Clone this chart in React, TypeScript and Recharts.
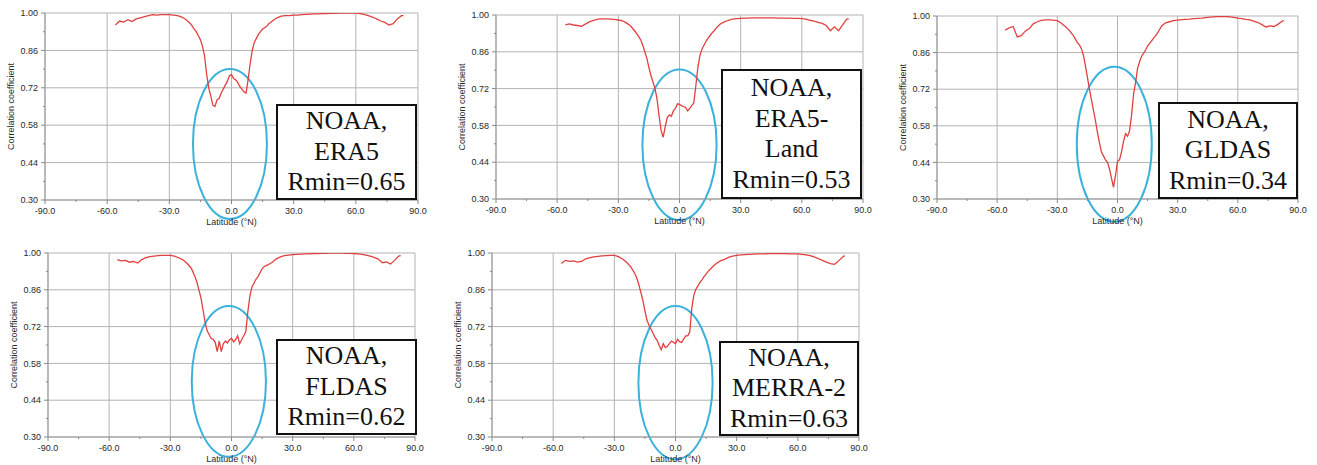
import React from "react";
import { LineChart, Line, XAxis, YAxis, CartesianGrid, ReferenceArea } from "recharts";

// latitude (°N) sample points shared by all panels
const latitudes = [
  -56, -54, -52, -50, -48, -46, -44, -42, -40, -38, -36, -34, -32, -30, -28, -26, -24, -22,
  -20, -19, -18, -17, -16, -15, -14, -13, -12, -11, -10, -9, -8, -7, -6, -5, -4, -3, -2, -1,
  0, 1, 2, 3, 4, 5, 6, 7, 8, 9, 10, 11, 12, 13, 14, 15, 16, 17, 18, 19, 20,
  22, 24, 26, 28, 30, 32, 34, 36, 38, 40, 42, 44, 46, 48, 50, 52, 54, 56, 58, 60,
  62, 64, 66, 68, 70, 72, 74, 76, 78, 80, 82, 83,
];

const era5 = [
  0.955, 0.97, 0.966, 0.975, 0.968, 0.978, 0.982, 0.986, 0.99, 0.994, 0.992, 0.994, 0.994, 0.994, 0.992, 0.99, 0.985, 0.976,
  0.962, 0.952, 0.94, 0.93, 0.915, 0.9, 0.875, 0.84, 0.77, 0.72, 0.69, 0.655, 0.65, 0.675, 0.68, 0.7, 0.715, 0.73, 0.745, 0.765,
  0.77, 0.755, 0.75, 0.74, 0.725, 0.715, 0.705, 0.7, 0.75, 0.81, 0.86, 0.89, 0.905, 0.92, 0.93, 0.94, 0.945, 0.95, 0.96, 0.965, 0.972,
  0.982, 0.988, 0.99, 0.99, 0.992, 0.992, 0.994, 0.995, 0.996, 0.997, 0.997, 0.998, 0.998, 0.999, 0.999, 1.0, 1.0, 1.0, 1.0, 1.0,
  0.998, 0.995, 0.99, 0.985, 0.978, 0.97, 0.965, 0.955, 0.96, 0.978, 0.99, 0.99,
];

const era5Land = [
  0.962, 0.966, 0.962, 0.96, 0.957, 0.966, 0.975, 0.98, 0.984, 0.985, 0.985, 0.984, 0.983, 0.981, 0.978, 0.97, 0.958, 0.94,
  0.918, 0.905, 0.885, 0.86, 0.835, 0.8, 0.77, 0.745, 0.72, 0.68, 0.615, 0.56, 0.535, 0.575, 0.61, 0.62, 0.615, 0.635, 0.645, 0.662,
  0.66, 0.655, 0.652, 0.648, 0.635, 0.645, 0.655, 0.665, 0.73, 0.8, 0.845, 0.87, 0.885, 0.9, 0.912, 0.922, 0.932, 0.94, 0.95, 0.958, 0.966,
  0.974, 0.98, 0.984, 0.986, 0.987, 0.988, 0.988, 0.989, 0.989, 0.989, 0.989, 0.989, 0.989, 0.988, 0.988, 0.988, 0.988, 0.987, 0.987, 0.986,
  0.984, 0.98, 0.977, 0.972, 0.968, 0.96, 0.94, 0.955, 0.94, 0.962, 0.984, 0.985,
];

const gldas = [
  0.946, 0.955, 0.96, 0.92, 0.925, 0.942, 0.952, 0.97, 0.978, 0.983, 0.985, 0.985, 0.984, 0.982, 0.972, 0.96, 0.945, 0.925,
  0.898, 0.89, 0.875, 0.85, 0.81, 0.765, 0.72, 0.68, 0.64, 0.6, 0.555, 0.515, 0.48, 0.465, 0.45, 0.44, 0.415, 0.38, 0.345, 0.39,
  0.445, 0.45, 0.48, 0.52, 0.55, 0.54, 0.56, 0.62, 0.7, 0.745, 0.8, 0.825, 0.845, 0.857, 0.87, 0.885, 0.895, 0.905, 0.915, 0.925, 0.935,
  0.962, 0.974, 0.978, 0.982, 0.984, 0.986, 0.987, 0.988, 0.99, 0.991, 0.992, 0.994, 0.996, 0.997, 0.998, 0.998, 0.998, 0.997, 0.995, 0.992,
  0.99, 0.987, 0.985, 0.98, 0.975, 0.967, 0.958, 0.962, 0.96, 0.968, 0.98, 0.982,
];

const fldas = [
  0.975, 0.97, 0.972, 0.965, 0.968, 0.962, 0.975, 0.982, 0.986, 0.988, 0.99, 0.991, 0.991, 0.991, 0.988, 0.982, 0.975, 0.962,
  0.945, 0.93, 0.912, 0.89, 0.86, 0.83, 0.785, 0.74, 0.705, 0.69, 0.675, 0.672, 0.66, 0.625, 0.665, 0.625, 0.655, 0.665, 0.658, 0.67,
  0.675, 0.662, 0.67, 0.685, 0.655, 0.67, 0.685, 0.7, 0.775, 0.835, 0.87, 0.885, 0.9, 0.91, 0.925, 0.94, 0.948, 0.952, 0.956, 0.96, 0.965,
  0.978, 0.985, 0.99, 0.992, 0.994, 0.995, 0.996, 0.997, 0.997, 0.998, 0.998, 0.999, 0.999, 1.0, 1.0, 1.0, 1.0, 0.999, 0.999, 0.998,
  0.997, 0.995, 0.992, 0.988, 0.983, 0.977, 0.963, 0.966, 0.958, 0.972, 0.988, 0.99,
];

const merra2 = [
  0.96, 0.972, 0.968, 0.97, 0.965, 0.968, 0.978, 0.982, 0.985, 0.987, 0.989, 0.99, 0.991, 0.991, 0.986, 0.977, 0.965, 0.948,
  0.922, 0.905, 0.88, 0.85, 0.82, 0.78, 0.745, 0.725, 0.71, 0.695, 0.678, 0.668, 0.648, 0.632, 0.655, 0.64, 0.645, 0.655, 0.665, 0.66,
  0.655, 0.672, 0.663, 0.66, 0.672, 0.685, 0.685, 0.7, 0.79, 0.84, 0.862, 0.875, 0.888, 0.898, 0.91, 0.92, 0.93, 0.938, 0.946, 0.953, 0.96,
  0.97, 0.976, 0.983, 0.988, 0.991, 0.993, 0.994, 0.995, 0.996, 0.997, 0.997, 0.997, 0.998, 0.998, 0.998, 0.998, 0.998, 0.997, 0.997, 0.997,
  0.995, 0.993, 0.99, 0.985, 0.979, 0.972, 0.965, 0.96, 0.957, 0.97, 0.985, 0.99,
];

const xMajor = [-90, -60, -30, 0, 30, 60, 90];
const xMinor = [-75, -45, -15, 15, 45, 75];
const yMajor = [0.3, 0.44, 0.58, 0.72, 0.86, 1.0];
const yMinor = [0.37, 0.51, 0.65, 0.79, 0.93];

const FONT = "'Liberation Sans', Arial, sans-serif";
const GRID = "#b3b3b3";
const TEXT = "#2a2a2a";

const panels = [
  {
    values: era5,
    labels: ["NOAA,", "ERA5", "Rmin=0.65"],
    circle: { x1: -18.6, x2: 17.1, y1: 0.229, y2: 0.79 },
    plot: { left: 45, top: 13, w: 373, h: 187 },
    box: { left: 276, top: 104, w: 141, h: 96 },
  },
  {
    values: era5Land,
    labels: ["NOAA,", "ERA5-", "Land", "Rmin=0.53"],
    circle: { x1: -18.2, x2: 18.2, y1: 0.22, y2: 0.793 },
    plot: { left: 496, top: 15, w: 367, h: 184 },
    box: { left: 721, top: 69, w: 141, h: 130 },
  },
  {
    values: gldas,
    labels: ["NOAA,", "GLDAS", "Rmin=0.34"],
    circle: { x1: -20.3, x2: 17.1, y1: 0.213, y2: 0.806 },
    plot: { left: 937, top: 16, w: 361, h: 183 },
    box: { left: 1158, top: 102, w: 140, h: 97 },
  },
  {
    values: fldas,
    labels: ["NOAA,", "FLDAS", "Rmin=0.62"],
    circle: { x1: -19.5, x2: 16.9, y1: 0.225, y2: 0.798 },
    plot: { left: 48, top: 253, w: 367, h: 184 },
    box: { left: 276, top: 339, w: 141, h: 96 },
  },
  {
    values: merra2,
    labels: ["NOAA,", "MERRA-2", "Rmin=0.63"],
    circle: { x1: -18.2, x2: 18.2, y1: 0.215, y2: 0.798 },
    plot: { left: 492, top: 253, w: 367, h: 184 },
    box: { left: 719, top: 341, w: 140, h: 95 },
  },
];

const isMajor = (list: number[], v: number) => list.some((m) => Math.abs(m - v) < 1e-6);

const XTick = (props: any) => {
  const { x, y, payload } = props;
  const major = isMajor(xMajor, payload.value);
  const axisY = y - 8;
  return (
    <g>
      <line x1={x} x2={x} y1={axisY} y2={axisY + (major ? 4 : 2)} stroke="#888" />
      {major && (
        <text x={x} y={y} dy="0.71em" textAnchor="middle" fontSize={9} fontFamily={FONT} fill={TEXT}>
          {payload.value.toFixed(1)}
        </text>
      )}
    </g>
  );
};

const YTick = (props: any) => {
  const { x, y, payload } = props;
  const major = isMajor(yMajor, payload.value);
  const axisX = x + 7;
  return (
    <g>
      <line x1={axisX - (major ? 4 : 2)} x2={axisX} y1={y} y2={y} stroke="#888" />
      {major && (
        <text x={x} y={y} dy="0.35em" textAnchor="end" fontSize={9} fontFamily={FONT} fill={TEXT}>
          {payload.value.toFixed(2)}
        </text>
      )}
    </g>
  );
};

const Ellipse = (p: any) => (
  <ellipse
    cx={p.x + p.width / 2}
    cy={p.y + p.height / 2}
    rx={Math.abs(p.width) / 2}
    ry={Math.abs(p.height) / 2}
    fill="none"
    stroke="#3bb2dc"
    strokeWidth={2}
  />
);

const Panel = ({ panel }: { panel: (typeof panels)[number] }) => {
  const { plot, box, circle, labels, values } = panel;
  const data = latitudes.map((lat, i) => ({ lat, r: values[i] }));
  const yAxisW = 45;
  const xAxisH = 30;
  const mTop = 10;
  const mRight = 16;
  return (
    <>
      <div style={{ position: "absolute", left: plot.left - yAxisW, top: plot.top - mTop }}>
        <LineChart
          width={plot.w + yAxisW + mRight}
          height={plot.h + mTop + xAxisH}
          data={data}
          margin={{ top: mTop, right: mRight, bottom: 0, left: 0 }}
        >
          <CartesianGrid stroke={GRID} horizontalValues={yMajor} verticalValues={xMajor} />
          <XAxis
            dataKey="lat"
            type="number"
            domain={[-90, 90]}
            ticks={[...xMajor, ...xMinor].sort((a, b) => a - b)}
            interval={0}
            height={xAxisH}
            tickSize={4}
            tickMargin={4}
            tickLine={false}
            tick={<XTick />}
            axisLine={{ stroke: "#999" }}
            label={{
              value: "Latitude (°N)",
              position: "insideBottom",
              offset: 5,
              style: { fontSize: 9, fontFamily: FONT, fill: TEXT },
            }}
          />
          <YAxis
            type="number"
            domain={[0.3, 1]}
            ticks={[...yMajor, ...yMinor].sort((a, b) => a - b)}
            interval={0}
            width={yAxisW}
            tickSize={3}
            tickMargin={4}
            tickLine={false}
            tick={<YTick />}
            axisLine={{ stroke: "#999" }}
            allowDataOverflow
            label={{
              value: "Correlation coefficient",
              angle: -90,
              position: "insideLeft",
              offset: 11,
              style: { textAnchor: "middle", fontSize: 9, fontFamily: FONT, fill: TEXT },
            }}
          />
          <Line
            dataKey="r"
            type="linear"
            stroke="#e0403f"
            strokeWidth={1.3}
            dot={false}
            isAnimationActive={false}
          />
          <ReferenceArea
            x1={circle.x1}
            x2={circle.x2}
            y1={circle.y1}
            y2={circle.y2}
            ifOverflow="visible"
            shape={Ellipse}
          />
        </LineChart>
      </div>
      <div
        style={{
          position: "absolute",
          left: box.left,
          top: box.top,
          width: box.w,
          height: box.h,
          boxSizing: "border-box",
          border: "2px solid #111",
          background: "#fff",
          display: "flex",
          flexDirection: "column",
          justifyContent: "center",
          alignItems: "center",
          fontFamily: "'Liberation Serif', 'Times New Roman', serif",
          fontSize: 26,
          lineHeight: "30.5px",
          color: "#111",
        }}
      >
        {labels.map((t) => (
          <div key={t}>{t}</div>
        ))}
      </div>
    </>
  );
};

export default function App() {
  return (
    <div
      style={{
        position: "absolute",
        left: 0,
        top: 0,
        width: 1317,
        height: 465,
        overflow: "hidden",
        background: "#fff",
      }}
    >
      {panels.map((p, i) => (
        <Panel key={i} panel={p} />
      ))}
    </div>
  );
}
